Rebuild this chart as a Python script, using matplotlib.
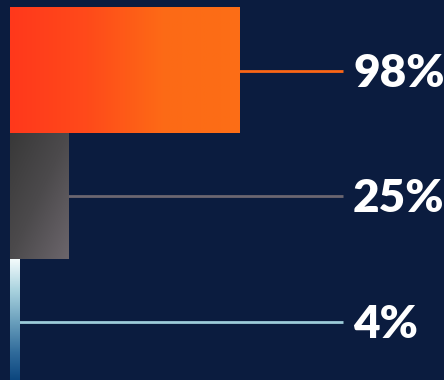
import matplotlib.pyplot as plt
import numpy as np
from matplotlib.colors import LinearSegmentedColormap

# Share values shown as stacked horizontal bars
labels = ['98%', '25%', '4%']
values = [98, 25, 4]

BG = '#0b1c3f'
line_colors = ['#fc6616', '#6b6670', '#9ccbd8']

fig = plt.figure(figsize=(4.44, 3.80), dpi=100, facecolor=BG)
ax = fig.add_axes([0, 0, 1, 1])
ax.set_facecolor(BG)

px_per_unit = 229 / 98
row_px = 125.5
ax.axis('off')

y = np.arange(len(values))
bars = ax.barh(y, values, height=1.0, color='none', edgecolor='none')

# gradient fills for each bar
n = 256
gx = np.tile(np.linspace(0, 1, n), (n, 1))
gy = np.tile(np.linspace(0, 1, n)[:, None], (1, n))
orange = LinearSegmentedColormap.from_list('o', ['#ff381c', '#ff4a1a', '#fd6a16', '#fc6e16'])
gray = LinearSegmentedColormap.from_list('g', ['#383838', '#4c4a4c', '#6c666c'])
blue = LinearSegmentedColormap.from_list('b', ['#f4fbfc', '#a8d2de', '#6a9fbc', '#2f6a9a', '#06407a'])
fills = [(gx, orange), ((gx + gy) / 2, gray), (gy, blue)]

for bar, (grad, cmap) in zip(bars, fills):
    x0, y0 = bar.get_x(), bar.get_y()
    w, h = bar.get_width(), bar.get_height()
    ax.imshow(grad, cmap=cmap, extent=(x0, x0 + w, y0 + h, y0),
              aspect='auto', interpolation='bilinear', zorder=2)

line_end = 333 / px_per_unit
label_x = 343 / px_per_unit
for i, (v, lab) in enumerate(zip(values, labels)):
    ax.plot([v, line_end], [i, i], color=line_colors[i], lw=2, zorder=1,
            solid_capstyle='butt')
    ax.text(label_x, i + 0.02, lab, color='white', fontsize=33, fontweight='heavy',
            family='Lato', va='center', ha='left')

ax.set_xlim(-10 / px_per_unit, 434 / px_per_unit)
ax.set_ylim(-0.5 + 372 / row_px, -0.5 - 8 / row_px)

plt.savefig('out.png', dpi=100, facecolor=BG)
